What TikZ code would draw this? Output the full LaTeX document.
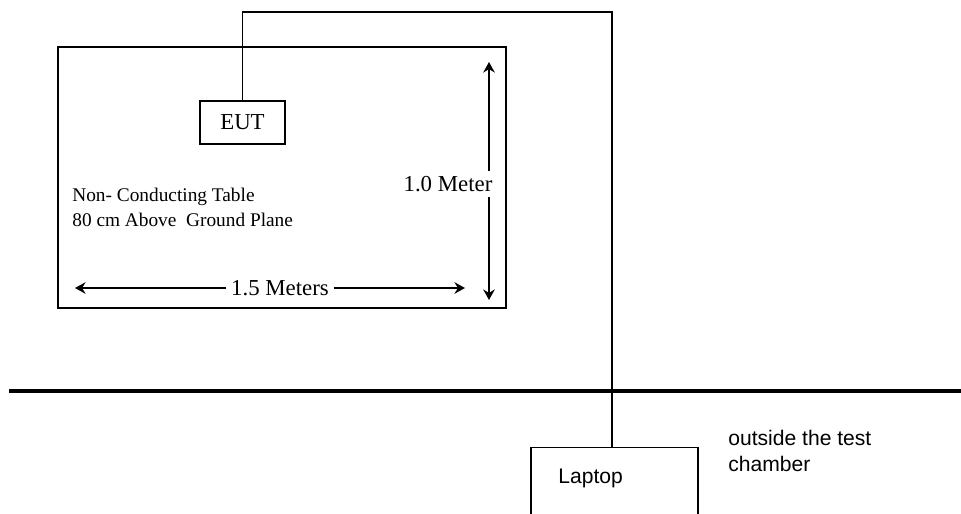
\documentclass[tikz,border=0pt]{standalone}
\usepackage{fontspec}
\setmainfont{Liberation Serif}
\setsansfont{Liberation Sans}
\usetikzlibrary{arrows.meta, positioning}

\begin{document}
\begin{tikzpicture}[
  x=0.02cm, y=-0.02cm,
  tablebox/.style={draw, rectangle, line width=0.8pt, minimum width=8.96cm, minimum height=5.22cm},
  smallblock/.style={draw, rectangle, line width=0.8pt, minimum width=1.7cm, minimum height=0.86cm, font=\fontsize{13}{15}\selectfont},
  pcblock/.style={draw, rectangle, line width=0.8pt, minimum width=3.34cm, minimum height=2cm},
  note/.style={align=left, inner sep=0pt, font=\fontsize{11}{14.2}\selectfont},
  sidenote/.style={align=left, inner sep=0pt, font=\sffamily\fontsize{12}{14.7}\selectfont},
  dimlabel/.style={inner sep=2.5pt, font=\fontsize{13}{15}\selectfont},
  dimarrow/.style={-{Stealth[length=2.1mm, width=2.3mm]}, line width=1.7pt},
  cable/.style={line width=0.8pt},
  ground/.style={line width=2.4pt}
]
\useasboundingbox (0,0) rectangle (961,514);
\clip (0,0) rectangle (961,514);

% table with the equipment under test
\node[tablebox] (table_top) at (282,177.5) {};
\node[smallblock] (eut) at (242.5,122.5) {EUT};
\node[note, anchor=north west] (table_txt) at (72,188) {Non- Conducting Table\\80 cm Above~ Ground Plane};

% table size
\node[dimlabel] (width_lbl) at (280,288) {1.5 Meters};
\coordinate (width_l) at (75,288);
\coordinate (width_r) at (465,288);
\draw[dimarrow] (width_lbl.west) -- (width_l);
\draw[dimarrow] (width_lbl.east) -- (width_r);

\node[dimlabel, anchor=east, inner sep=3pt] (depth_lbl) at (498,184) {1.0 Meter};
\coordinate (depth_t) at (489,62);
\coordinate (depth_b) at (489,300);
\draw[dimarrow] (depth_lbl.north -| depth_t) -- (depth_t);
\draw[dimarrow] (depth_lbl.south -| depth_b) -- (depth_b);

% chamber wall
\draw[ground] (9,391) -- (961,391);

% laptop outside
\node[pcblock, anchor=north] (laptop) at (614.5,447) {};
\node[sidenote, anchor=base west] (laptop_txt) at (558,483) {Laptop};
\node[sidenote, anchor=north west] (outside_txt) at (728,430) {outside the test\\chamber};

\coordinate (bend) at (612,12);
\draw[cable] (eut.north) |- (bend) -- (bend |- laptop.north);

\end{tikzpicture}
\end{document}
